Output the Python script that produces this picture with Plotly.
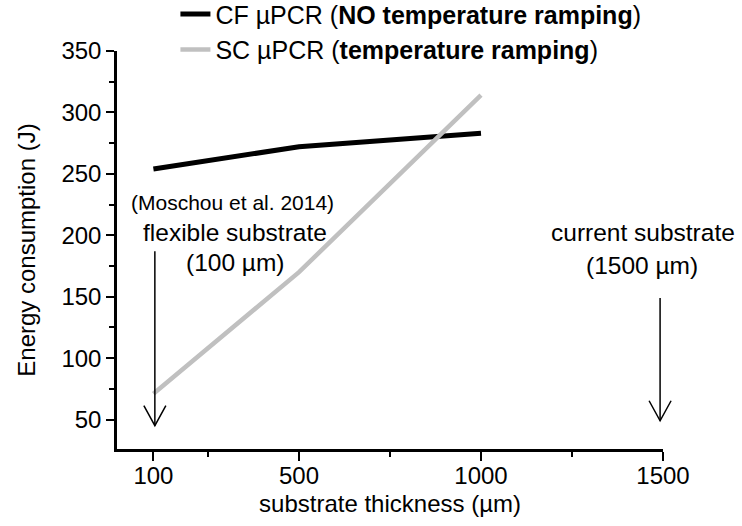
import plotly.graph_objects as go

thickness = [100, 500, 1000]
cf_energy = [254, 272, 283]
sc_energy = [71, 170, 314]

x_ticks = [100, 500, 1000, 1500]
y_ticks = [50, 100, 150, 200, 250, 300, 350]

arrow_x = [104, 1492]
arrow_top = [187, 149]
arrow_tip = [45, 49]

X_RANGE = [0, 1500]
Y_RANGE = [26, 350]

FONT = "Arial, Liberation Sans, sans-serif"


def dx(v):
    return (v - X_RANGE[0]) / (X_RANGE[1] - X_RANGE[0])


def dy(v):
    return (v - Y_RANGE[0]) / (Y_RANGE[1] - Y_RANGE[0])


fig = go.Figure()
fig.add_trace(go.Scatter(
    x=thickness, y=cf_energy, mode="lines",
    name="CF µPCR (<b>NO temperature ramping</b>)",
    line=dict(color="black", width=5),
))
fig.add_trace(go.Scatter(
    x=thickness, y=sc_energy, mode="lines",
    name="SC µPCR (<b>temperature ramping</b>)",
    line=dict(color="#c0c0c0", width=4.5),
))

shapes = []
for ax, at, tip in zip(arrow_x, arrow_top, arrow_tip):
    shapes.append(dict(type="line", xref="x domain", yref="y domain",
                       x0=dx(ax), x1=dx(ax), y0=dy(at), y1=dy(tip),
                       line=dict(color="black", width=1.5)))
    shapes.append(dict(type="path", xref="x domain", yref="y domain",
                       xsizemode="pixel", ysizemode="pixel",
                       xanchor=dx(ax), yanchor=dy(tip), path="M -11,20 L 0,0 L 11,20",
                       line=dict(color="black", width=1.5)))

annotations = [
    dict(x=318, y=227, text="(Moschou et al. 2014)", font=dict(size=21)),
    dict(x=325, y=202, text="flexible substrate", font=dict(size=24.5)),
    dict(x=325, y=177.5, text="(100 µm)", font=dict(size=24.5)),
    dict(x=1445, y=202, text="current substrate", font=dict(size=24.5)),
    dict(x=1443, y=175.5, text="(1500 µm)", font=dict(size=24.5)),
]
for a in annotations:
    a.update(xref="x", yref="y", showarrow=False, xanchor="center", yanchor="middle")
    a["font"].update(color="black", family=FONT)

fig.update_layout(
    width=742, height=526,
    margin=dict(l=117, r=79, t=51, b=77, autoexpand=False),
    paper_bgcolor="white", plot_bgcolor="white",
    font=dict(family=FONT, color="black", size=24),
    shapes=shapes, annotations=annotations,
    legend=dict(x=0.107, y=1.15, xanchor="left", yanchor="top",
                font=dict(size=25), bgcolor="rgba(0,0,0,0)",
                itemwidth=30, tracegroupgap=0),
    showlegend=True,
)
fig.update_xaxes(
    range=X_RANGE, tickvals=x_ticks, ticktext=[str(v) for v in x_ticks],
    showline=True, linecolor="black", linewidth=2.5, mirror=False,
    ticks="outside", ticklen=9, tickwidth=2, tickcolor="black",
    minor=dict(tickvals=[250, 750, 1250], ticks="outside", ticklen=5, tickwidth=2, tickcolor="black"),
    showgrid=False, zeroline=False,
    title=dict(text="substrate thickness (µm)", font=dict(size=24), standoff=8),
    tickfont=dict(size=24), ticklabelstandoff=-6,
)
fig.update_yaxes(
    range=Y_RANGE, tickvals=y_ticks,
    showline=True, linecolor="black", linewidth=2.5, mirror=False,
    ticks="outside", ticklen=8, tickwidth=2, tickcolor="black",
    minor=dict(tickvals=[75, 125, 175, 225, 275, 325], ticks="outside", ticklen=5, tickwidth=2, tickcolor="black"),
    showgrid=False, zeroline=False,
    title=dict(text="Energy consumption (J)", font=dict(size=24), standoff=20),
    tickfont=dict(size=24),
)

fig.write_html("out.html", config={"displayModeBar": False},
               post_script="document.body.style.margin='0';document.body.style.overflow='hidden';")
